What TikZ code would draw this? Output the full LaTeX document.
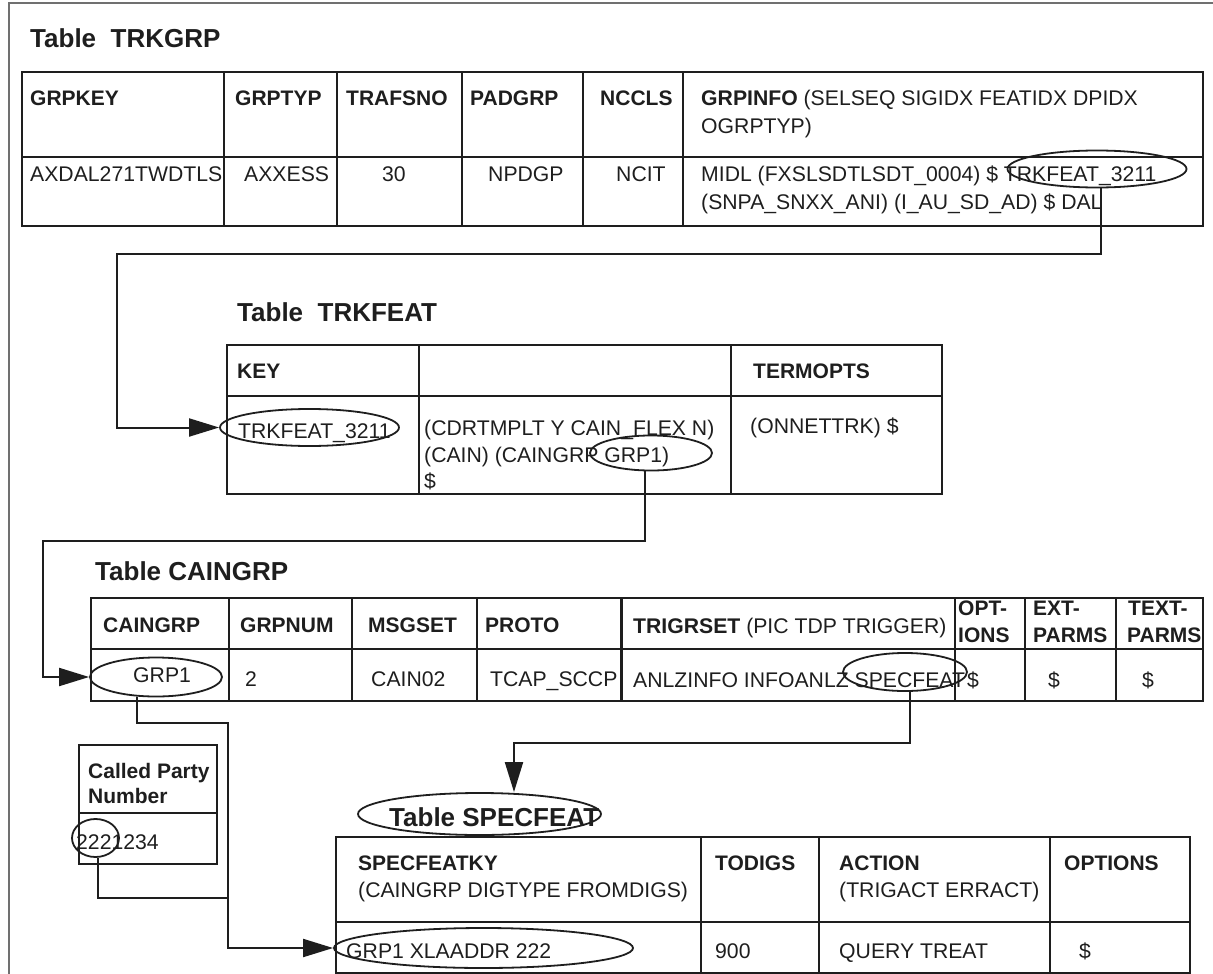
\documentclass[tikz,border=0pt]{standalone}
\usepackage{fontspec}
\setmainfont{Liberation Sans}
\usetikzlibrary{arrows.meta,shapes.geometric}
\definecolor{ink}{HTML}{1E1E1E}
\definecolor{framec}{HTML}{707070}
\begin{document}
\begin{tikzpicture}[x=1pt,y=-1pt,
  tbl/.style={line width=2.2pt, draw=ink},
  conn/.style={line width=2pt, draw=ink},
  arr/.style={conn, -{Triangle[length=30pt,width=18pt]}},
  oval/.style={ellipse, draw=ink, line width=1.8pt, inner sep=0pt},
  ttl/.style={anchor=base west, inner sep=0pt, text=ink, font=\fontsize{26}{30}\selectfont\bfseries},
  hd/.style={anchor=base west, inner sep=0pt, text=ink, font=\fontsize{21}{27}\selectfont\bfseries},
  tx/.style={anchor=base west, inner sep=0pt, text=ink, font=\fontsize{21.2}{27}\selectfont}]
\useasboundingbox (0,0) rectangle (1213,974);
% outer frame
\draw[framec, line width=1.2pt] (9,990) -- (9,3) -- (1230,3);

% ---------------- Table TRKGRP ----------------
\node[ttl] (tTRKGRP) at (30,48) {Table~~TRKGRP};
\draw[tbl] (22,72) rectangle (1203,226);
\draw[tbl] (22,157) -- (1203,157);
\foreach \x in {224,337,462,583,683} \draw[tbl] (\x,72) -- (\x,226);
\node[hd] (g1) at (30,105) {GRPKEY};
\node[hd] (g2) at (235,105) {GRPTYP};
\node[hd] (g3) at (346,105) {TRAFSNO};
\node[hd] (g4) at (470,105) {PADGRP};
\node[hd] (g5) at (600,105) {NCCLS};
\node[tx] (g6) at (701,105) {\textbf{GRPINFO} (SELSEQ SIGIDX FEATIDX DPIDX};
\node[tx] (g6b) at (701,133) {OGRPTYP)};
\node[tx] (r1) at (30,181) {AXDAL271TWDTLS};
\node[tx] (r2) at (244,181) {AXXESS};
\node[tx] (r3) at (382,181) {30};
\node[tx] (r4) at (488,181) {NPDGP};
\node[tx] (r5) at (616,181) {NCIT};
\node[tx] (r6) at (701,181) {MIDL (FXSLSDTLSDT\_0004) \$ TRKFEAT\_3211};
\node[tx] (r6b) at (701,209) {(SNPA\_SNXX\_ANI) (I\_AU\_SD\_AD) \$ DAL};
\node[oval, minimum width=179pt, minimum height=37pt] (e1) at (1097,169) {};

% ---------------- Table TRKFEAT ----------------
\node[ttl] (tTRKFEAT) at (237,321) {Table~~TRKFEAT};
\draw[tbl] (227,345) rectangle (942,494);
\draw[tbl] (227,396) -- (942,396);
\foreach \x in {419,731} \draw[tbl] (\x,345) -- (\x,494);
\node[hd] (f1) at (237,378) {KEY};
\node[hd] (f3) at (753,378) {TERMOPTS};
\node[tx] (f4) at (238,438) {TRKFEAT\_3211};
\node[tx] (f5) at (424,435) {(CDRTMPLT Y CAIN\_FLEX N)};
\node[tx] (f5b) at (424,462) {(CAIN) (CAINGRP GRP1)};
\node[tx] (f5c) at (424,488) {\$};
\node[tx] (f6) at (750,433) {(ONNETTRK) \$};
\node[oval, minimum width=179pt, minimum height=37pt] (e2) at (309.5,427.5) {};
\node[oval, minimum width=122pt, minimum height=35pt] (e3) at (651,453) {};

% ---------------- Table CAINGRP ----------------
\node[ttl] (tCAINGRP) at (95,580) {Table CAINGRP};
\draw[tbl] (91,598) rectangle (1203,701);
\draw[tbl] (91,649) -- (1203,649);
\foreach \x in {229,352,477,621.5,955,1025,1116} \draw[tbl] (\x,598) -- (\x,701);
\node[hd] (c1) at (103,632) {CAINGRP};
\node[hd] (c2) at (240,632) {GRPNUM};
\node[hd] (c3) at (368,632) {MSGSET};
\node[hd] (c4) at (485,632) {PROTO};
\node[tx] (c5) at (633,633) {\textbf{TRIGRSET} (PIC TDP TRIGGER)};
\node[hd] (c6) at (958,615) {OPT-};
\node[hd] (c6b) at (958,642) {IONS};
\node[hd] (c7) at (1033,615) {EXT-};
\node[hd] (c7b) at (1033,642) {PARMS};
\node[hd] (c8) at (1128,615) {TEXT-};
\node[hd] (c8b) at (1127,642) {PARMS};
\node[tx] (d1) at (133,682) {GRP1};
\node[tx] (d2) at (245,686) {2};
\node[tx] (d3) at (371,686) {CAIN02};
\node[tx] (d4) at (490,686) {TCAP\_SCCP};
\node[tx] (d5) at (633,687) {ANLZINFO INFOANLZ SPECFEAT};
\node[tx] (d6) at (967,687) {\$};
\node[tx] (d7) at (1048,687) {\$};
\node[tx] (d8) at (1142,687) {\$};
\node[oval, minimum width=132pt, minimum height=39pt] (e4) at (156,677) {};
\node[oval, minimum width=124pt, minimum height=38pt] (e5) at (905,672) {};

% ---------------- Called Party Number ----------------
\draw[tbl] (79,745) rectangle (217,864);
\draw[tbl] (79,813) -- (217,813);
\node[hd] (p1) at (88,778) {Called Party};
\node[hd] (p1b) at (88,803) {Number};
\node[tx] (p2) at (76,849) {2221234};
\node[oval, minimum width=47pt, minimum height=38pt] (e8) at (95.5,838) {};

% ---------------- Table SPECFEAT ----------------
\node[ttl] (tSPECFEAT) at (389,826) {Table SPECFEAT};
\node[oval, minimum width=243pt, minimum height=42pt] (e6) at (479.5,814) {};
\draw[tbl] (336,837) rectangle (1190,973);
\draw[tbl] (336,922) -- (1190,922);
\foreach \x in {701,819,1050} \draw[tbl] (\x,837) -- (\x,973);
\node[hd] (s1) at (358,870) {SPECFEATKY};
\node[tx] (s1b) at (358,897) {(CAINGRP DIGTYPE FROMDIGS)};
\node[hd] (s2) at (715,870) {TODIGS};
\node[hd] (s3) at (839,870) {ACTION};
\node[tx] (s3b) at (839,897) {(TRIGACT ERRACT)};
\node[hd] (s4) at (1064,870) {OPTIONS};
\node[tx] (u1) at (346,958) {GRP1 XLAADDR 222};
\node[tx] (u2) at (715,958) {900};
\node[tx] (u3) at (839,958) {QUERY TREAT};
\node[tx] (u4) at (1079,958) {\$};
\node[oval, minimum width=299pt, minimum height=40pt] (e7) at (483.5,948) {};

% ---------------- connectors ----------------
\coordinate (k1) at (117,254);
\coordinate (k2) at (43,541);
\coordinate (k3) at (228,723);
\coordinate (k4) at (514,743);
\coordinate (j1) at (228,898);
\draw[arr] ([xshift=4pt]e1.south) |- (k1) |- (e2.west);
\draw[arr] ([xshift=-6pt]e3.south) |- (k2) |- (e4.west);
\draw[arr] ([xshift=-19pt]e4.south) |- (k3) |- (e7.west);
\draw[conn] ([xshift=2.5pt]e8.south) |- (j1);
\draw[arr] ([xshift=5pt]e5.south) |- (k4) -- (k4 |- e6.north);
\end{tikzpicture}
\end{document}
